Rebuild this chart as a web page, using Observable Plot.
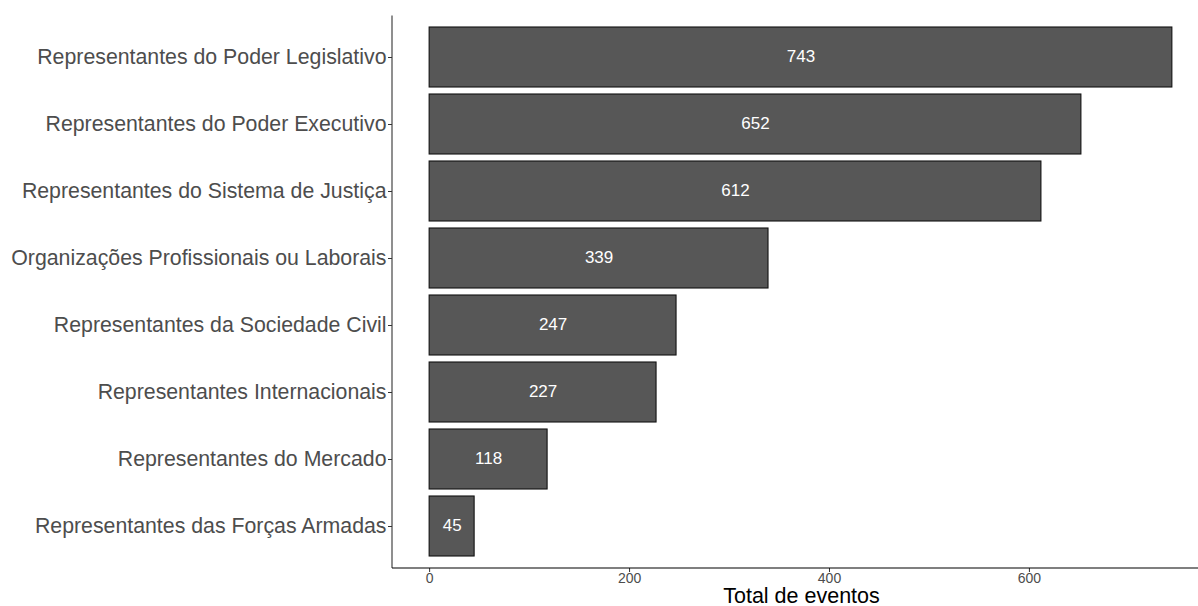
<!DOCTYPE html>
<html>
<head>
<meta charset="utf-8">
<script src="https://cdn.jsdelivr.net/npm/d3@7"></script>
<script src="https://cdn.jsdelivr.net/npm/@observablehq/plot@0.6"></script>
<style>
  html, body { margin: 0; padding: 0; background: #fff; }
  #chart svg { display: block; font-family: "Liberation Sans", Arial, sans-serif; }
</style>
</head>
<body>
<div id="chart"></div>
<script>
const categories = [
  "Representantes do Poder Legislativo",
  "Representantes do Poder Executivo",
  "Representantes do Sistema de Justiça",
  "Organizações Profissionais ou Laborais",
  "Representantes da Sociedade Civil",
  "Representantes Internacionais",
  "Representantes do Mercado",
  "Representantes das Forças Armadas"
];
const values = [743, 652, 612, 339, 247, 227, 118, 45];
const xTicks = [0, 200, 400, 600];
const xTitle = "Total de eventos";

(function () {
  const data = categories.map((c, i) => ({cat: c, v: values[i]}));
  const maxV = d3.max(values);
  const pad = maxV * 0.05;

  const W = 1198, H = 606;
  const pTop = 15.6, pBottom = 568;
  const pLeft = 392, pRight = 1209;

  const chart = Plot.plot({
    width: W,
    height: H,
    marginLeft: pLeft,
    marginRight: 0,
    marginTop: pTop,
    marginBottom: H - pBottom,
    style: {fontFamily: '"Liberation Sans", Arial, sans-serif', background: "#fff", overflow: "hidden"},
    x: {domain: [-pad, maxV + pad], range: [pLeft, pRight]},
    y: {domain: categories, range: [pTop, pBottom], paddingInner: 0.1, paddingOuter: 0.15, align: 0.5},
    marks: [
      Plot.barX(data, {y: "cat", x: "v", fill: "#575757", stroke: "#111", strokeWidth: 1.1}),
      Plot.text(data, {y: "cat", x: d => d.v / 2, text: d => String(d.v), fill: "#fff", fontSize: 17, dy: -1}),
      Plot.axisY({tickSize: 4, tickPadding: 2, fontSize: 21.3, color: "#4d4d4d", stroke: "#333", label: null}),
      Plot.axisX({ticks: xTicks, tickFormat: d3.format("d"), tickSize: 4, tickPadding: 1, fontSize: 14, color: "#4d4d4d", stroke: "#333", label: null}),
      Plot.text([xTitle], {frameAnchor: "bottom", dx: 6, dy: 27.5, fontSize: 21.5, fill: "#000", lineAnchor: "middle"})
    ]
  });

  const svg = d3.select(chart);
  svg.append("line").attr("x1", pLeft).attr("x2", pLeft).attr("y1", pTop).attr("y2", pBottom)
    .attr("stroke", "#333").attr("stroke-width", 1.1);
  svg.append("line").attr("x1", pLeft).attr("x2", pRight).attr("y1", pBottom).attr("y2", pBottom)
    .attr("stroke", "#000").attr("stroke-width", 1.1);

  document.getElementById("chart").appendChild(chart);
})();
</script>
</body>
</html>
